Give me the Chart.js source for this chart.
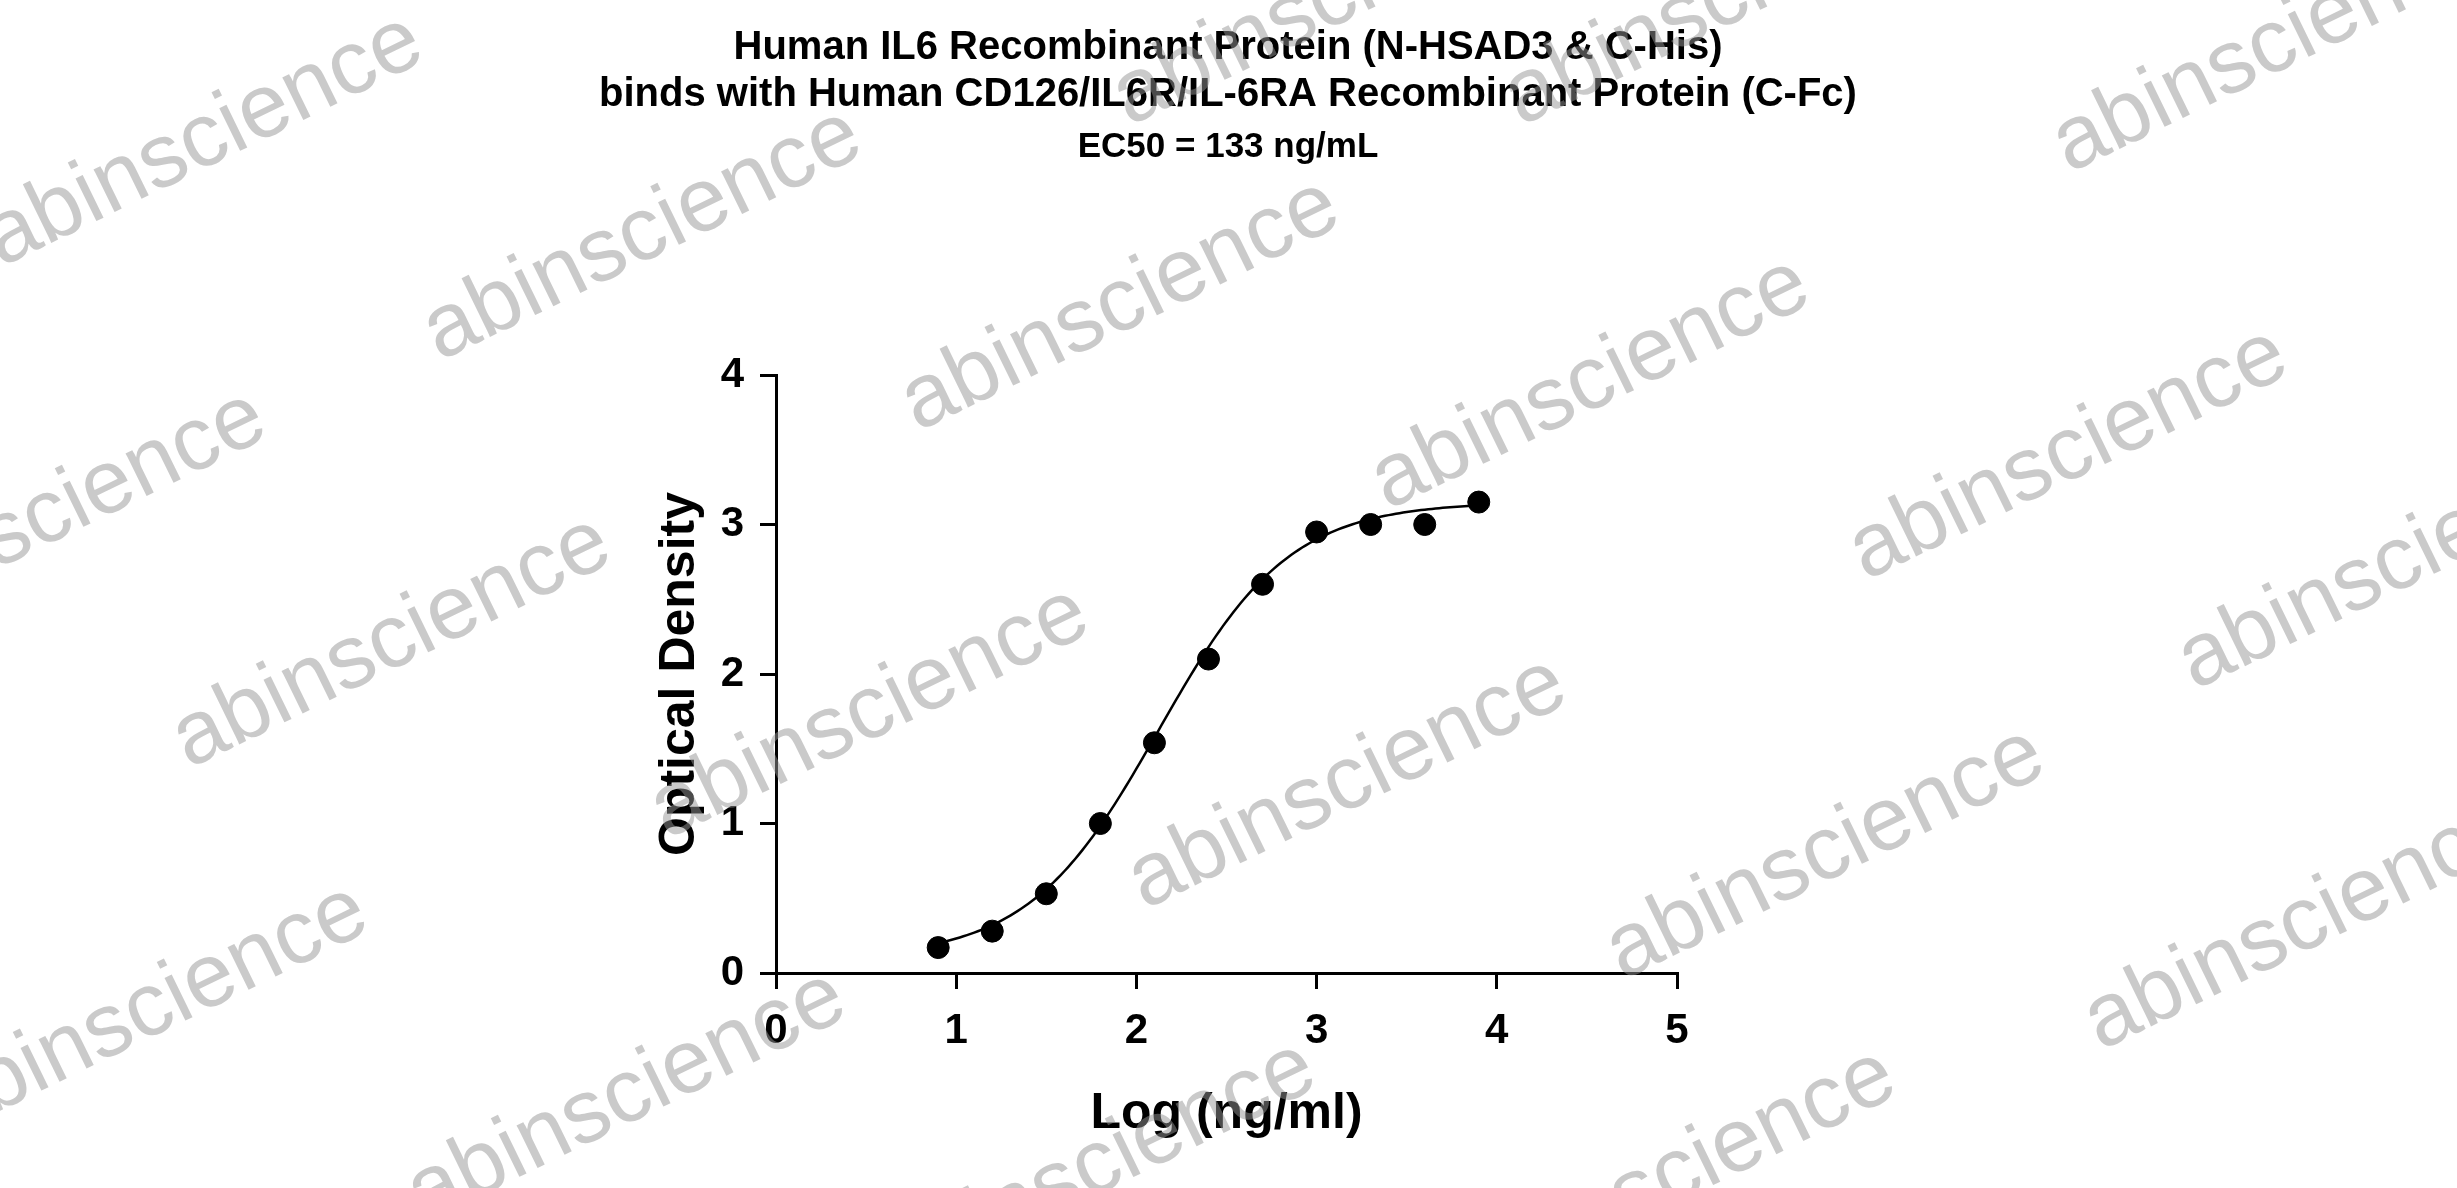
<!DOCTYPE html>
<html><head><meta charset="utf-8">
<script src="https://cdn.jsdelivr.net/npm/chart.js@4"></script>
<style>html,body{margin:0;padding:0;background:#fff}#w{width:2457px;height:1188px}</style>
</head><body><div id="w"><canvas id="c"></canvas></div>
<script>
const logConc = [0.9,1.2,1.5,1.8,2.1,2.4,2.7,3.0,3.3,3.6,3.9];
const opticalDensity = [0.17,0.28,0.53,1.0,1.54,2.1,2.6,2.95,3.0,3.0,3.15];
const xTicks = [0,1,2,3,4,5];
const yTicks = [0,1,2,3,4];
const titleLines = ["Human IL6 Recombinant Protein (N-HSAD3 & C-His)","binds with Human CD126/IL6R/IL-6RA Recombinant Protein (C-Fc)"];
const subtitle = "EC50 = 133 ng/mL";
// 4PL fit parameters
const fitBottom = 0.1, fitTop = 3.15, fitLogEC50 = Math.log10(133), fitHill = 1.2;
const fitCurve = [];
for (let x = logConc[0]; x <= logConc[logConc.length-1] + 1e-9; x += 0.02) {
  fitCurve.push({x, y: fitBottom + (fitTop - fitBottom) / (1 + Math.pow(10, (fitLogEC50 - x) * fitHill))});
}
const S = 2457/1568;
const marks = [[130,90],[410,150],[715,195],[1015,245],[1320,290],[1450,30],[30,330],[250,410],[555,455],[860,500],[1165,545],[1470,590],[95,645],[400,700],[1530,360],[850,0],[1100,0],[700,745],[1070,750]];
const deco = {
  id:'deco',
  afterDraw(ch){
    const c = ch.ctx; c.save();
    c.fillStyle='#000'; c.textAlign='center'; c.textBaseline='middle';
    c.font='bold 40px "Liberation Sans", Arial, sans-serif';
    c.fillText(titleLines[0], 1228, 48);
    c.fillText(titleLines[1], 1228, 95);
    c.font='bold 35px "Liberation Sans", Arial, sans-serif';
    c.fillText(subtitle, 1228, 147);
    c.fillStyle='rgba(150,150,150,0.5)';
    c.font='90px "Liberation Sans", Arial, sans-serif';
    for (const [x,y] of marks){
      c.save(); c.translate(x*S, y*S); c.rotate(-26*Math.PI/180);
      c.fillText('abinscience',0,0); c.restore();
    }
    c.restore();
  }
};
const tf = '"Liberation Sans", Arial';
new Chart(document.getElementById('c'), {
  data:{datasets:[
    {type:'line', data:fitCurve, borderColor:'#000', borderWidth:2.5, pointRadius:0, fill:false, tension:0},
    {type:'scatter', data:logConc.map((x,i)=>({x, y:opticalDensity[i]})), backgroundColor:'#000', borderColor:'#000', pointRadius:11}
  ]},
  options:{
    responsive:true, maintainAspectRatio:false, animation:false,
    layout:{padding:{left:646,top:375,right:780,bottom:40}},
    plugins:{legend:{display:false},tooltip:{enabled:false}},
    scales:{
      x:{type:'linear', min:0, max:5, afterBuildTicks(a){a.ticks=xTicks.map(v=>({value:v}));},
        afterFit(a){a.height=175;},
        border:{color:'#000', width:3},
        grid:{drawOnChartArea:false, drawTicks:true, tickLength:16, color:'#000', lineWidth:3},
        ticks:{color:'#000', font:{size:42, weight:'bold', family:tf}, padding:17},
        title:{display:true, text:'Log (ng/ml)', color:'#000', font:{size:50, weight:'bold', family:tf}, padding:{top:24}}
      },
      y:{type:'linear', min:0, max:4, afterBuildTicks(a){a.ticks=yTicks.map(v=>({value:v}));},
        afterFit(a){a.width=130;},
        border:{color:'#000', width:3},
        grid:{drawOnChartArea:false, drawTicks:true, tickLength:16, color:'#000', lineWidth:3},
        ticks:{color:'#000', font:{size:42, weight:'bold', family:tf}, padding:16},
        title:{display:true, text:'Optical Density', color:'#000', font:{size:50, weight:'bold', family:tf}, padding:{bottom:4}}
      }
    }
  },
  plugins:[deco]
});
</script></body></html>
